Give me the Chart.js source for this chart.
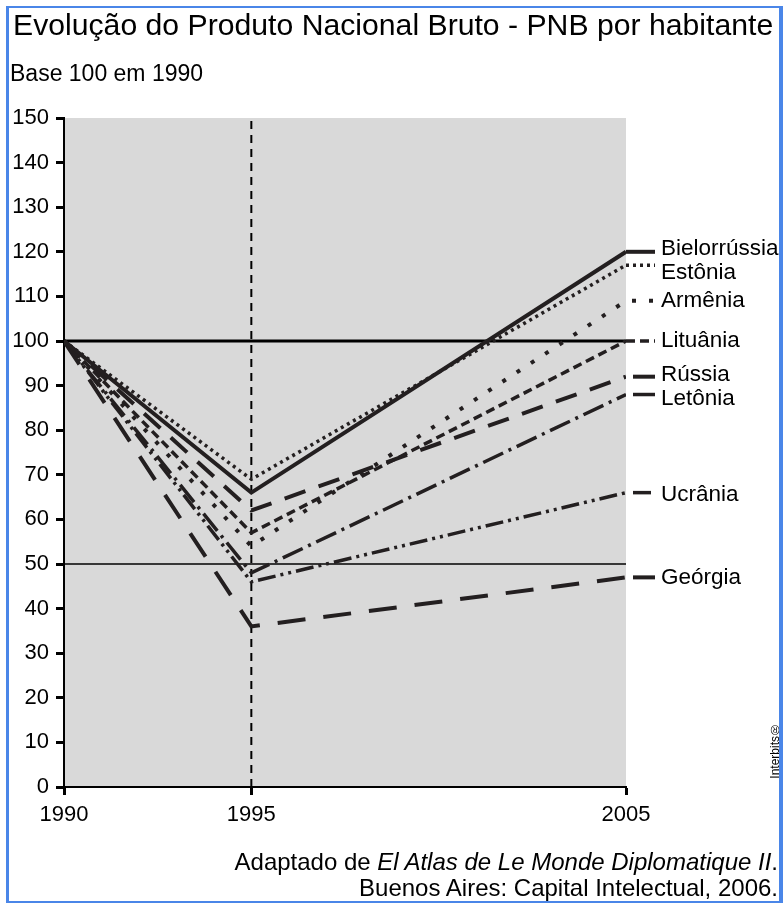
<!DOCTYPE html>
<html>
<head>
<meta charset="utf-8">
<script src="https://cdn.jsdelivr.net/npm/chart.js@4/dist/chart.umd.min.js"></script>
<style>
  html, body { margin: 0; padding: 0; background: #fff; }
  #wrap { position: relative; width: 783px; height: 903px; overflow: hidden; font-family: 'Liberation Sans', Arial, sans-serif; color: #000; }
  #c { position: absolute; left: 0; top: 0; }
  #frame { position: absolute; left: 6px; top: 6px; border-left: 3px solid #4a86e8; border-top: 2px solid #4a86e8; border-right: 4px solid #4a86e8; border-bottom: 2px solid #4a86e8; box-sizing: border-box; width: 777px; height: 897px; }
  #title { position: absolute; left: 13px; top: 10px; font-size: 30.2px; line-height: 30px; white-space: nowrap; }
  #sub { position: absolute; left: 10px; top: 62px; font-size: 23px; line-height: 22px; white-space: nowrap; }
  .credit { position: absolute; right: 5px; font-size: 24px; line-height: 24px; white-space: nowrap; }
  #cr1 { top: 850px; }
  #cr2 { top: 876px; }
  #ib { position: absolute; left: 768px; top: 722px; font-size: 12px; writing-mode: vertical-rl; transform: rotate(180deg); white-space: nowrap; }
</style>
</head>
<body>
<div id="wrap">
  <canvas id="c" width="783" height="903"></canvas>
  <div id="title">Evolução do Produto Nacional Bruto - PNB por habitante</div>
  <div id="sub">Base 100 em 1990</div>
  <div class="credit" id="cr1">Adaptado de <i>El Atlas de Le Monde Diplomatique II</i>.</div>
  <div class="credit" id="cr2">Buenos Aires: Capital Intelectual, 2006.</div>
  <div id="ib">Interbits®</div>
  <div id="frame"></div>
</div>
<script>
// ---- data ----
const years = [1990, 1995, 2005];
const bielorrussia = [100, 66, 120];
const estonia = [100, 69, 117];
const armenia = [100, 54, 109];
const lituania = [100, 57, 100];
const russia = [100, 62, 92];
const letonia = [100, 48, 88];
const ucrania = [100, 46, 66];
const georgia = [100, 36, 47];
const countryNames = ['Bielorrússia', 'Estônia', 'Armênia', 'Lituânia', 'Rússia', 'Letônia', 'Ucrânia', 'Geórgia'];
const yTickValues = [0, 10, 20, 30, 40, 50, 60, 70, 80, 90, 100, 110, 120, 130, 140, 150];
const referenceLevels = [100, 50];
const markerYear = 1995;

// ---- styles ----
const seriesValues = [bielorrussia, estonia, armenia, lituania, russia, letonia, ucrania, georgia];
const seriesStyles = [
  { dash: [], width: 4, mGap: 0, nudge: -3 },
  { dash: [3, 4], width: 3.5, mGap: 0, nudge: 8 },
  { dash: [4, 13], width: 4, mGap: 6, nudge: 0 },
  { dash: [9, 5], width: 3.5, mGap: 0, nudge: 0 },
  { dash: [22, 14], width: 4, mGap: 7, nudge: -2 },
  { dash: [22, 6, 3, 6], width: 3.5, mGap: 7, nudge: 4 },
  { dash: [18, 5, 3, 5, 3, 5], width: 3.5, mGap: 7, nudge: 2 },
  { dash: [28, 18], width: 4, mGap: 7, nudge: 0 }
];
const FONT = "'Liberation Sans', Arial, sans-serif";

const datasets = seriesValues.map((vals, i) => ({
  label: countryNames[i],
  data: years.map((x, k) => ({ x: x, y: vals[k] })),
  borderColor: '#231f20',
  borderWidth: seriesStyles[i].width,
  borderDash: seriesStyles[i].dash,
  borderCapStyle: 'butt',
  pointRadius: 0,
  tension: 0,
  fill: false,
  isCountry: true,
  styleIdx: i
}));

referenceLevels.forEach((lv, i) => {
  datasets.push({
    label: 'ref' + lv,
    data: [{ x: years[0], y: lv }, { x: years[years.length - 1], y: lv }],
    borderColor: '#000',
    borderWidth: i === 0 ? 3 : 1.5,
    pointRadius: 0,
    fill: false
  });
});
datasets.push({
  label: 'ref1995',
  data: [{ x: markerYear, y: yTickValues[0] }, { x: markerYear, y: yTickValues[yTickValues.length - 1] }],
  borderColor: '#000',
  borderWidth: 2,
  borderDash: [8, 6],
  pointRadius: 0,
  fill: false
});

const bgPlugin = {
  id: 'bg',
  beforeDraw(chart) {
    const { ctx, chartArea: a } = chart;
    ctx.save();
    ctx.fillStyle = '#d9d9d9';
    ctx.fillRect(a.left, a.top, a.right - a.left, a.bottom - a.top);
    ctx.restore();
  }
};

const labelPlugin = {
  id: 'endLabels',
  afterDatasetsDraw(chart) {
    const { ctx, chartArea: a } = chart;
    ctx.save();
    chart.data.datasets.forEach((ds, di) => {
      if (!ds.isCountry) return;
      const st = seriesStyles[ds.styleIdx];
      const meta = chart.getDatasetMeta(di);
      const last = meta.data[meta.data.length - 1];
      const y = last.y;
      ctx.strokeStyle = '#231f20';
      ctx.lineWidth = st.width;
      ctx.lineCap = 'butt';
      ctx.setLineDash(st.dash);
      ctx.beginPath();
      ctx.moveTo(a.right + st.mGap, y);
      ctx.lineTo(a.right + 29, y);
      ctx.stroke();
      ctx.setLineDash([]);
      ctx.fillStyle = '#000';
      ctx.font = '22.5px ' + FONT;
      ctx.textAlign = 'left';
      ctx.textBaseline = 'middle';
      ctx.fillText(ds.label, a.right + 35, y + st.nudge);
    });
    ctx.restore();
  }
};

new Chart(document.getElementById('c'), {
  type: 'line',
  data: { datasets: datasets },
  plugins: [bgPlugin, labelPlugin],
  options: {
    responsive: false,
    devicePixelRatio: 1,
    animation: false,
    layout: { padding: { top: 118, left: 0, right: 157, bottom: 0 } },
    plugins: { legend: { display: false }, tooltip: { enabled: false }, title: { display: false } },
    scales: {
      x: {
        type: 'linear',
        min: years[0],
        max: years[years.length - 1],
        afterBuildTicks(s) { s.ticks = years.map(v => ({ value: v })); },
        afterFit(s) { s.height = 116; },
        grid: { display: true, drawOnChartArea: false, drawTicks: true, tickLength: 8, tickColor: '#000', tickWidth: 3 },
        border: { display: true, color: '#000', width: 2 },
        ticks: { color: '#000', font: { family: FONT, size: 22 }, padding: 7, maxRotation: 0, autoSkip: false, callback: v => String(v) }
      },
      y: {
        type: 'linear',
        min: yTickValues[0],
        max: yTickValues[yTickValues.length - 1],
        afterBuildTicks(s) { s.ticks = yTickValues.map(v => ({ value: v })); },
        afterFit(s) { s.width = 64; },
        grid: { display: true, drawOnChartArea: false, drawTicks: true, tickLength: 8, tickColor: '#000', tickWidth: 3 },
        border: { display: true, color: '#000', width: 2 },
        ticks: { color: '#000', font: { family: FONT, size: 22 }, padding: 7, autoSkip: false, callback: v => String(v) }
      }
    }
  }
});
</script>
</body>
</html>
